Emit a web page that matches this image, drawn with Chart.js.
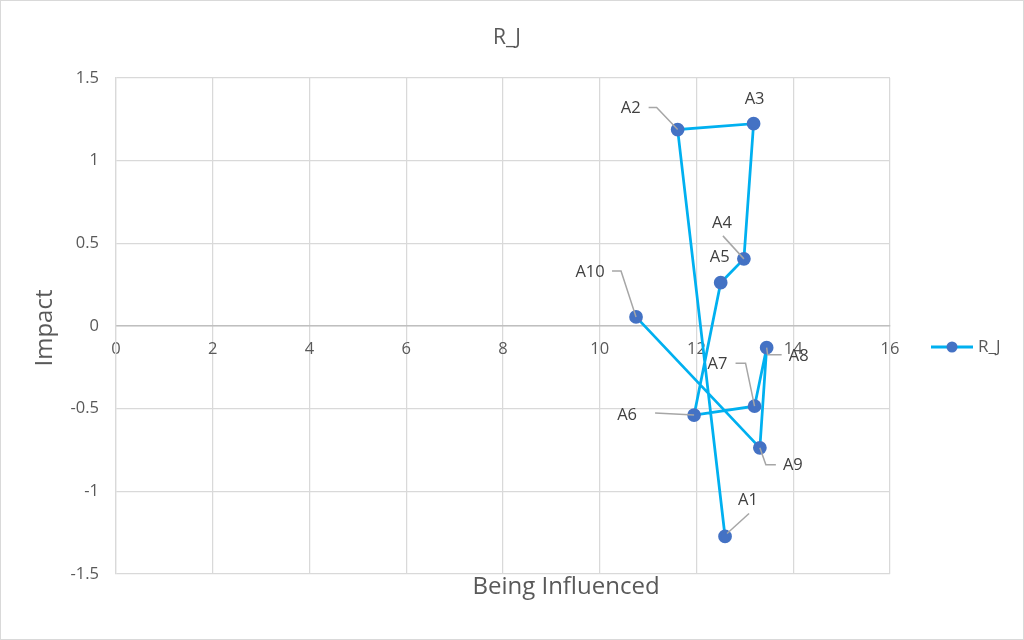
<!DOCTYPE html>
<html>
<head>
<meta charset="utf-8">
<script src="https://cdn.jsdelivr.net/npm/chart.js@4/dist/chart.umd.min.js"></script>
<style>
html,body{margin:0;padding:0;background:#fff;}
#wrap{width:1024px;height:640px;position:relative;}
canvas{display:block;}
</style>
</head>
<body>
<div id="wrap"><canvas id="c" width="1024" height="640"></canvas></div>
<script>
const seriesName = "R_J";
const pointLabels = ["A1","A2","A3","A4","A5","A6","A7","A8","A9","A10"];
const xValues = [12.59, 11.61, 13.18, 12.98, 12.50, 11.95, 13.20, 13.45, 13.31, 10.75];
const yValues = [-1.273, 1.188, 1.224, 0.406, 0.262, -0.539, -0.485, -0.131, -0.737, 0.055];
const chartTitle = "R_J";
const xTitle = "Being Influenced";
const yTitle = "Impact";

// label layout: text offset (dx,dy) from point, and leader polyline offsets
const labelLayout = [
  {t:[23,-36], lead:[[2,-3],[24,-23]]},
  {t:[-47,-21], lead:[[0,0],[-21,-22],[-29,-22]]},
  {t:[1,-24], lead:null},
  {t:[-22,-36], lead:[[0,0],[-21,-23]]},
  {t:[-1,-25], lead:null},
  {t:[-67,0], lead:[[0,0],[-39,-2]]},
  {t:[-37,-42], lead:[[0,0],[-9,-43],[-19,-43]]},
  {t:[32,9], lead:[[0,0],[1,7],[15,7]]},
  {t:[33,17], lead:[[0,0],[6,17],[16,17]]},
  {t:[-46,-45], lead:[[0,0],[-15,-46],[-24,-46]]}
];

const FONT = "'Open Sans', 'Liberation Sans', sans-serif";
const points = xValues.map((x,i)=>({x:x,y:yValues[i]}));

const decor = {
  id:'decor',
  beforeDraw(chart){
    const ctx = chart.ctx;
    ctx.save();
    ctx.fillStyle='#fff';
    ctx.fillRect(0,0,chart.width,chart.height);
    ctx.strokeStyle='#d9d9d9';
    ctx.lineWidth=1;
    ctx.strokeRect(0.5,0.5,chart.width-1,chart.height-1);
    ctx.restore();
  },
  afterDatasetsDraw(chart){
    const ctx = chart.ctx;
    const meta = chart.getDatasetMeta(0);
    ctx.save();
    ctx.font = "16.5px " + FONT;
    ctx.fillStyle = '#404040';
    ctx.textAlign='center';
    ctx.textBaseline='middle';
    meta.data.forEach((el,i)=>{
      const L = labelLayout[i];
      if (L.lead){
        ctx.strokeStyle='#a6a6a6';
        ctx.lineWidth=1.5;
        ctx.beginPath();
        L.lead.forEach((p,j)=>{
          const px=el.x+p[0], py=el.y+p[1];
          if(j===0) ctx.moveTo(px,py); else ctx.lineTo(px,py);
        });
        ctx.stroke();
      }
      ctx.fillText(pointLabels[i], el.x+L.t[0], el.y+L.t[1]);
    });
    ctx.restore();
  },
  afterDraw(chart){
    const ctx = chart.ctx;
    const a = chart.chartArea;
    ctx.save();
    ctx.fillStyle='#595959';
    ctx.textAlign='center';
    ctx.textBaseline='middle';
    ctx.font = "21px " + FONT;
    ctx.fillText(chartTitle, 507, 38);
    ctx.font = "24px " + FONT;
    ctx.fillText(xTitle, 566, 587);
    ctx.save();
    ctx.translate(45, 328);
    ctx.rotate(-Math.PI/2);
    ctx.fillText(yTitle, 0, 0);
    ctx.restore();
    // legend
    const ly = 347;
    ctx.strokeStyle='#00b0f0';
    ctx.lineWidth=3;
    ctx.beginPath(); ctx.moveTo(931,ly); ctx.lineTo(973,ly); ctx.stroke();
    ctx.fillStyle='#4472c4';
    ctx.beginPath(); ctx.arc(952,ly,5.5,0,Math.PI*2); ctx.fill();
    ctx.fillStyle='#595959';
    ctx.textAlign='left';
    ctx.font = "17px " + FONT;
    ctx.fillText(seriesName, 978, ly);
    ctx.restore();
  }
};

new Chart(document.getElementById('c'), {
  type:'scatter',
  data:{datasets:[{
    label: seriesName,
    data: points,
    showLine:true,
    borderColor:'#00b0f0',
    borderWidth:2.75,
    backgroundColor:'#4472c4',
    pointBackgroundColor:'#4472c4',
    pointBorderColor:'#4472c4',
    pointRadius:5.5,
    pointHoverRadius:5.5,
    tension:0
  }]},
  options:{
    responsive:false,
    animation:false,
    devicePixelRatio:1,
    layout:{padding:{left:0,top:78,right:134,bottom:66}},
    plugins:{legend:{display:false}, title:{display:false}, tooltip:{enabled:false}},
    scales:{
      x:{
        type:'linear', min:0, max:16,
        position:{y:0},
        ticks:{stepSize:2, color:'#595959', font:{size:16.5, family:FONT}, padding:13, maxRotation:0},
        grid:{color:'#d9d9d9', lineWidth:1.25, drawTicks:false},
        border:{display:true, color:'#bfbfbf', width:1.5}
      },
      y:{
        type:'linear', min:-1.5, max:1.5,
        ticks:{stepSize:0.5, color:'#595959', font:{size:16.5, family:FONT}, padding:17,
               callback:(v)=>String(Math.round(v*10)/10)},
        grid:{color:'#d9d9d9', lineWidth:1.25, drawTicks:false},
        border:{display:true, color:'#d9d9d9', width:1.25},
        afterFit(scale){ scale.width = 116; }
      }
    }
  },
  plugins:[decor]
});
</script>
</body>
</html>
